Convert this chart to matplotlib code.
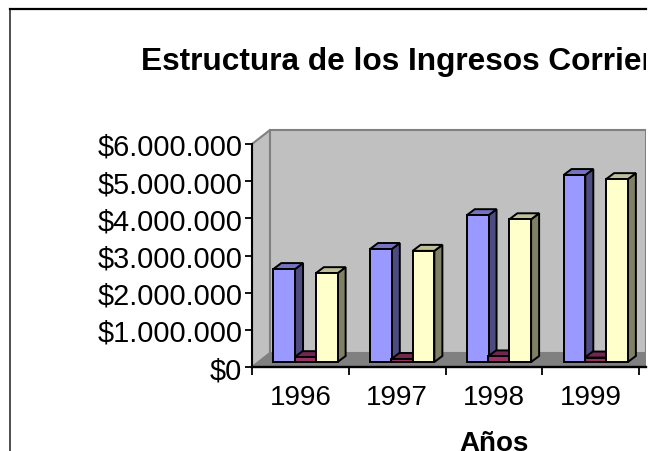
import matplotlib
matplotlib.use('Agg')
import matplotlib.pyplot as plt
from matplotlib.lines import Line2D
from matplotlib.transforms import Bbox

plt.rcParams['font.family'] = ['Liberation Sans', 'DejaVu Sans']

# datos
years = ['1996', '1997', '1998', '1999']
blue_values = [2500000, 3040000, 3950000, 5030000]
red_values = [130000, 80000, 150000, 120000]
yellow_values = [2390000, 2990000, 3840000, 4920000]
y_ticks = [0, 1000000, 2000000, 3000000, 4000000, 5000000, 6000000]
y_labels = ['$0', '$1.000.000', '$2.000.000', '$3.000.000', '$4.000.000', '$5.000.000', '$6.000.000']

W, H = 663, 452
fig = plt.figure(figsize=(W / 100, H / 100), dpi=100, facecolor='white')

# pixeles de la zona de la grafica
left, right, base, top6 = 252, 646, 368, 145
px_x = 96.75  # pixeles por categoria
px_y = (base - top6) / 6000000  # pixeles por peso
wall_dx, wall_dy = 18, 14
bar_dx, bar_dy = 8, 6
lift = 5  # la barra empieza un poco arriba del eje
bar_w = 0.225

ax = fig.add_axes([left / W, 1 - (base + 2) / H, (right - left) / W, (base + 2 - 125) / H])
ax.set_xlim(0, (right - left) / px_x)
ax.set_ylim(-2 / px_y, (base - 125) / px_y)
ax.patch.set_alpha(0)


def dx(p):
    return p / px_x


def dy(p):
    return p / px_y


xmax = ax.get_xlim()[1]
ymax = y_ticks[-1]
# paredes y piso
ax.fill([0, dx(wall_dx), dx(wall_dx), 0], [0, dy(wall_dy), ymax + dy(wall_dy), ymax],
        facecolor='#c0c0c0', edgecolor='#808080', lw=1.5, zorder=1)
ax.fill([dx(wall_dx), xmax, xmax, dx(wall_dx)], [dy(wall_dy), dy(wall_dy), ymax + dy(wall_dy), ymax + dy(wall_dy)],
        facecolor='#c0c0c0', edgecolor='#808080', lw=1.5, zorder=1)
ax.fill([0, dx(wall_dx), xmax, xmax], [0, dy(wall_dy), dy(wall_dy), 0],
        facecolor='#808080', edgecolor='none', zorder=2)


def bars3d(offset, values, front, side, roof, z):
    for i, v in enumerate(values):
        x0 = i + offset
        x1 = x0 + bar_w
        y0 = dy(lift)
        y1 = y0 + v
        ax.bar(x0, v, bar_w, bottom=y0, align='edge', color=front, edgecolor='black', lw=1.4, zorder=z + 0.2)
        ax.fill([x1, x1 + dx(bar_dx), x1 + dx(bar_dx), x1], [y0, y0 + dy(bar_dy), y1 + dy(bar_dy), y1],
                facecolor=side, edgecolor='black', lw=1.4, zorder=z + 0.1)
        ax.fill([x0, x0 + dx(bar_dx), x1 + dx(bar_dx), x1], [y1, y1 + dy(bar_dy), y1 + dy(bar_dy), y1],
                facecolor=roof, edgecolor='black', lw=1.4, zorder=z + 0.1)


bars3d(0.22, blue_values, '#9999ff', '#4c4c80', '#7373bf', 3)
bars3d(0.44, red_values, '#993366', '#4c1933', '#732650', 4)
bars3d(0.66, yellow_values, '#ffffcc', '#808066', '#bfbf99', 5)

# ejes
for s in ['top', 'right']:
    ax.spines[s].set_visible(False)
ax.spines['left'].set_position(('data', 0))
ax.spines['left'].set_bounds(0, ymax)
ax.spines['bottom'].set_position(('data', 0))
ax.spines['left'].set_linewidth(1.5)
ax.spines['bottom'].set_linewidth(1.7)
ax.spines['left'].set_zorder(8)
ax.spines['bottom'].set_zorder(8)

ax.set_yticks(y_ticks)
ax.set_yticklabels(y_labels, fontsize=20.8)
ax.tick_params(axis='y', length=5, width=1.3, pad=2)
ax.set_xticks(range(len(years) + 1))
ax.set_xticklabels([])
ax.tick_params(axis='x', which='major', length=6, width=1.3)
ax.set_xticks([i + 0.5 for i in range(len(years))], minor=True)
ax.set_xticklabels(years, minor=True, fontsize=20)
ax.tick_params(axis='x', which='minor', length=0, pad=12)

# recuadro del grafico, cortado a la derecha y abajo
fig.add_artist(Line2D([10 / W, 10 / W], [0, 1 - 10 / H], color='#404040', lw=1.3))
fig.add_artist(Line2D([10 / W, right / W], [1 - 10 / H, 1 - 10 / H], color='black', lw=1.6))

clip = Bbox([[0, 0], [right, H]])
t = fig.text(141 / W, 1 - 70 / H, 'Estructura de los Ingresos Corrientes', fontsize=22.8,
             fontweight='bold', ha='left', va='baseline')
t.set_clip_box(clip)
t.set_clip_on(True)
fig.text(494 / W, 1 - 451 / H, 'Años', fontsize=20, fontweight='bold', ha='center', va='baseline')

fig.savefig('out.png', dpi=100)
